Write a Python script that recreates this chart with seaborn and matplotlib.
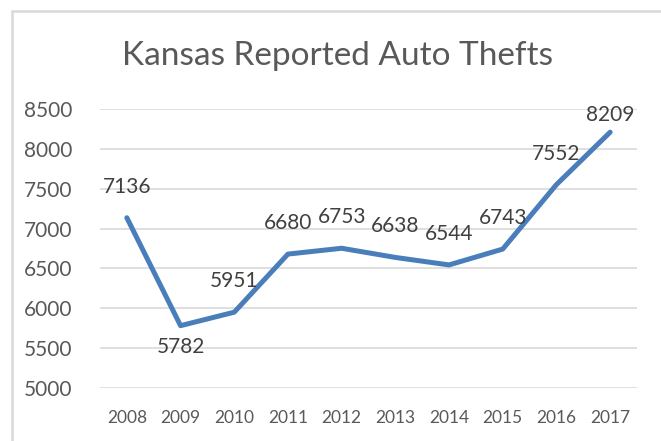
import matplotlib
matplotlib.use("Agg")
import matplotlib.pyplot as plt
import seaborn as sns
import pandas as pd
from matplotlib.patches import Rectangle

# data
years = [2008, 2009, 2010, 2011, 2012, 2013, 2014, 2015, 2016, 2017]
thefts = [7136, 5782, 5951, 6680, 6753, 6638, 6544, 6743, 7552, 8209]

df = pd.DataFrame({"Year": years, "Thefts": thefts})

sns.set_theme(style="white")
plt.rcParams["font.family"] = ["Lato", "DejaVu Sans"]

grey_txt = "#595959"
grid_col = "#d9d9d9"
blue = "#4a7ebb"

fig = plt.figure(figsize=(6.61, 4.41), dpi=100)
ax = fig.add_axes([100 / 661, 1 - 388 / 441, 537 / 661, (388 - 109) / 441])

sns.lineplot(data=df, x="Year", y="Thefts", ax=ax, color=blue, linewidth=3.6,
             solid_capstyle="round", solid_joinstyle="round", clip_on=False, zorder=3)

ax.set_xlim(2007.5, 2017.5)
ax.set_ylim(5000, 8500)
ax.set_yticks(range(5000, 8501, 500))
ax.set_xticks(years)
ax.set_xticklabels([str(y) for y in years])
ax.yaxis.grid(True, color=grid_col, linewidth=1.2)
ax.xaxis.grid(False)
ax.tick_params(axis="y", labelsize=15, colors=grey_txt, length=0, pad=20)
ax.tick_params(axis="x", labelsize=12.5, colors=grey_txt, length=0, pad=16)
for s in ax.spines.values():
    s.set_visible(False)
ax.set_xlabel("")
ax.set_ylabel("")

# data labels, above the point except where Excel moved them
for yr, v in zip(years, thefts):
    dy = 31
    if yr == 2009:
        dy = -21
    elif yr == 2017:
        dy = 17
    ax.annotate(str(v), (yr, v), xytext=(0, dy), textcoords="offset pixels",
                ha="center", va="center", fontsize=15, color="#404040", zorder=4)

fig.text(337 / 661, 1 - 56 / 441, "Kansas Reported Auto Thefts", ha="center", va="center",
         fontsize=24, color=grey_txt)

# chart area border
fig.patches.append(Rectangle((11.5 / 661, -0.1), 1.2, 1 - 10.5 / 441 + 0.1,
                             transform=fig.transFigure, fill=False,
                             edgecolor=grid_col, linewidth=1.8))

fig.savefig("out.png", dpi=100)
